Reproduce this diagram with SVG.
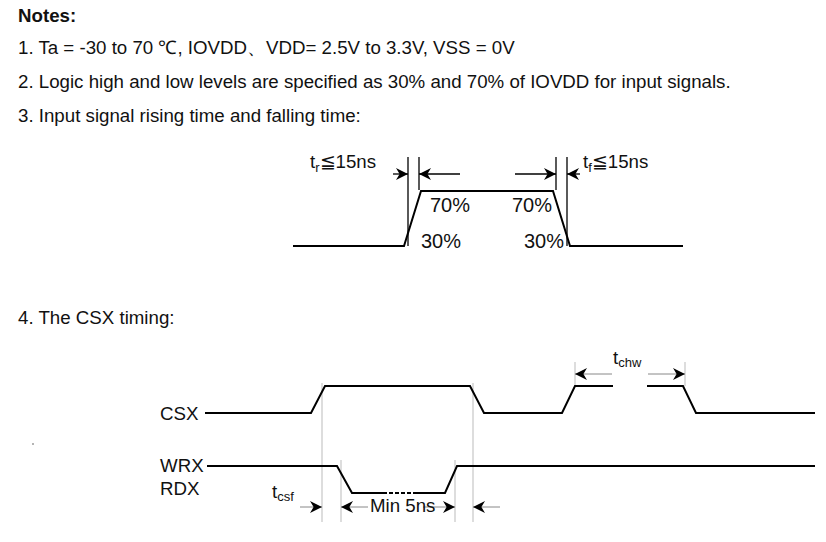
<svg xmlns="http://www.w3.org/2000/svg" width="826" height="542" viewBox="0 0 826 542">
<defs>
<marker id="ah" viewBox="0 0 10 10" refX="10" refY="5" markerWidth="15" markerHeight="12" markerUnits="userSpaceOnUse" orient="auto"><path d="M0,0 L10,5 L0,10 L3,5 z" fill="#000"/></marker>
<style>
text{font-family:"Liberation Sans",Arial,sans-serif;fill:#111;font-size:18.7px}
.w{fill:none;stroke:#000;stroke-width:2}
.g{stroke:#bbb;stroke-width:1}
.v{stroke:#000;stroke-width:1.3}
.a{stroke:#888;stroke-width:1;marker-end:url(#ah)}
.ab{stroke:#000;stroke-width:1.3;marker-end:url(#ah)}
.l{font-size:20px}
</style>
</defs>
<rect width="826" height="542" fill="#fff"/>
<g id="notes">
<text x="18" y="22" font-weight="bold">Notes:</text>
<text x="18" y="54">1. Ta = -30 to 70 ℃, IOVDD、VDD= 2.5V to 3.3V, VSS = 0V</text>
<text x="18" y="88">2. Logic high and low levels are specified as 30% and 70% of IOVDD for input signals.</text>
<text x="18" y="122">3. Input signal rising time and falling time:</text>
<text x="18" y="324">4. The CSX timing:</text>
</g>
<g id="rise-fall">
<path class="w" d="M293,246 H404 L421,191 H553 L570,246 H683"/>
<line class="v" x1="408" y1="157" x2="408" y2="246"/>
<line class="v" x1="419" y1="157" x2="419" y2="190"/>
<line class="v" x1="556" y1="157" x2="556" y2="190"/>
<line class="v" x1="567" y1="157" x2="567" y2="246"/>
<line class="ab" x1="393" y1="174" x2="408" y2="174"/>
<line class="ab" x1="460" y1="174" x2="419" y2="174"/>
<line class="ab" x1="515" y1="174" x2="556" y2="174"/>
<line class="ab" x1="580" y1="174" x2="567" y2="174"/>
<text x="310" y="168" font-size="21">t<tspan font-size="13" dy="4">r</tspan><tspan dy="-4">≦15ns</tspan></text>
<text x="583" y="168" font-size="21">t<tspan font-size="13" dy="4">f</tspan><tspan dy="-4">≦15ns</tspan></text>
<text class="l" x="430" y="212">70%</text>
<text class="l" x="512" y="212">70%</text>
<text class="l" x="421" y="248">30%</text>
<text class="l" x="524" y="248">30%</text>
</g>
<g id="guides">
<line class="g" x1="322" y1="383" x2="322" y2="522"/>
<line class="g" x1="341" y1="460" x2="341" y2="522"/>
<line class="g" x1="455" y1="460" x2="455" y2="522"/>
<line class="g" x1="473" y1="383" x2="473" y2="522"/>
<line class="g" x1="575" y1="362" x2="575" y2="386"/>
<line class="g" x1="685" y1="362" x2="685" y2="386"/>
</g>
<g id="csx">
<text x="160" y="420" font-size="19">CSX</text>
<path class="w" d="M205,413 H311 L325,386 H470 L484,413 H562 L575,386 H613 M647,386 H683 L696,413 H815"/>
</g>
<g id="wrx">
<text x="160" y="472" font-size="19">WRX</text>
<text x="160" y="495" font-size="19">RDX</text>
<path class="w" d="M207,466 H337 L352,493 H383 M415,493 H445 L457,466 H815"/>
<path d="M383,493 H415" stroke="#000" stroke-width="2" stroke-dasharray="4,2"/>
</g>
<g id="connectors">
<line class="a" x1="300" y1="507" x2="322" y2="507"/>
<line class="a" x1="368" y1="507" x2="341" y2="507"/>
<line class="a" x1="423" y1="507" x2="455" y2="507"/>
<line class="a" x1="500" y1="507" x2="473" y2="507"/>
<line class="a" x1="612" y1="374" x2="575" y2="374"/>
<line class="a" x1="648" y1="374" x2="685" y2="374"/>
</g>
<g id="labels">
<text x="370" y="512" font-size="12">Min 5ns</text>
<text x="272" y="498" font-size="21">t<tspan font-size="13" dy="3">csf</tspan></text>
<text x="613" y="364" font-size="21">t<tspan font-size="13" dy="3">chw</tspan></text>
<circle cx="33" cy="444" r="0.8" fill="#555"/>
</g>
</svg>
